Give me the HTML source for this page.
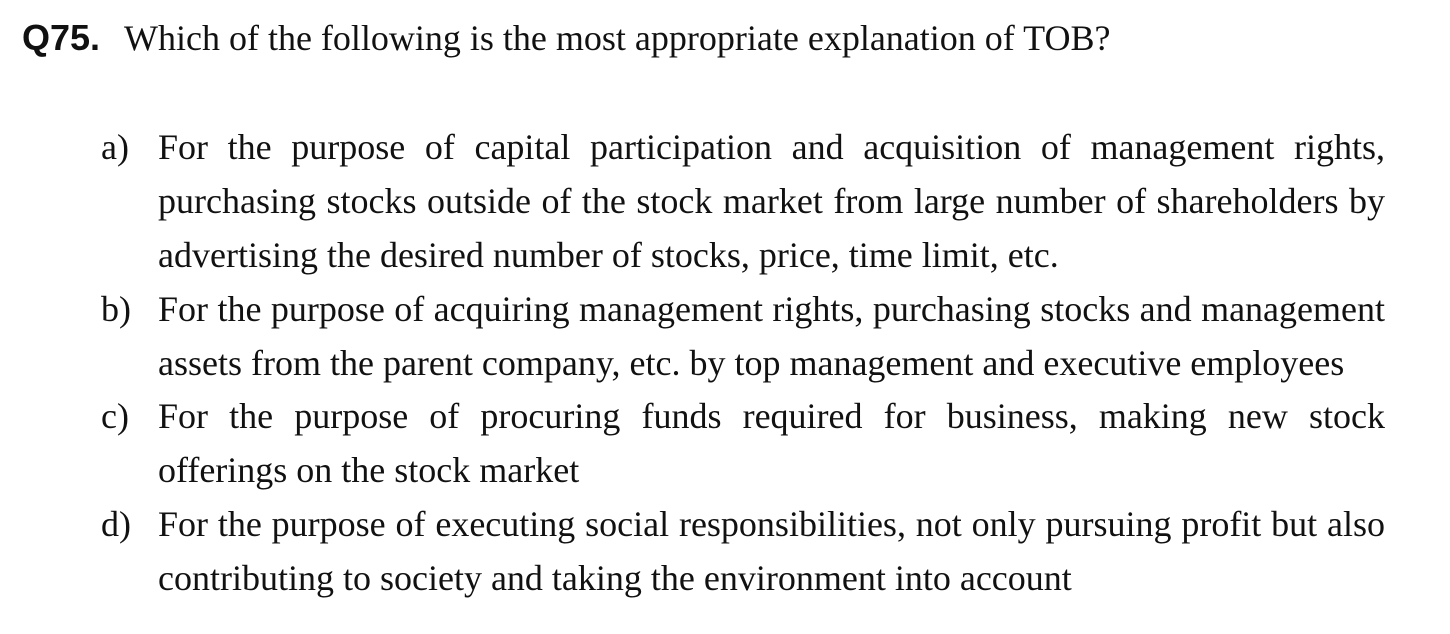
<!DOCTYPE html>
<html>
<head>
<meta charset="utf-8">
<style>
  html,body{margin:0;padding:0;background:#fff;}
  body{width:1450px;height:634px;position:relative;overflow:hidden;color:#111;}
  .serif{font-family:"Liberation Serif",serif;font-size:36px;}
  .ln{position:absolute;left:158px;width:1227px;height:54px;line-height:54px;white-space:nowrap;}
  .j{text-align:justify;text-align-last:justify;white-space:normal;}
  .lbl{position:absolute;left:101px;height:54px;line-height:54px;}
  #qnum{position:absolute;left:22px;top:16px;font-family:"Liberation Sans",sans-serif;font-weight:bold;font-size:36px;line-height:44px;}
  #qtext{position:absolute;left:124px;top:16px;line-height:44px;white-space:nowrap;}
</style>
</head>
<body>
<div id="qnum">Q75.</div>
<div id="qtext" class="serif">Which of the following is the most appropriate explanation of TOB?</div>

<div>
  <div class="lbl serif" style="top:120px">a)</div>
  <div class="ln serif j" style="top:120px">For the purpose of capital participation and acquisition of management rights,</div>
  <div class="ln serif j" style="top:174px">purchasing stocks outside of the stock market from large number of shareholders by</div>
  <div class="ln serif" style="top:228px">advertising the desired number of stocks, price, time limit, etc.</div>
</div>

<div>
  <div class="lbl serif" style="top:282px">b)</div>
  <div class="ln serif j" style="top:282px">For the purpose of acquiring management rights, purchasing stocks and management</div>
  <div class="ln serif" style="top:336px">assets from the parent company, etc. by top management and executive employees</div>
</div>

<div>
  <div class="lbl serif" style="top:389px">c)</div>
  <div class="ln serif j" style="top:389px">For the purpose of procuring funds required for business, making new stock</div>
  <div class="ln serif" style="top:443px">offerings on the stock market</div>
</div>

<div>
  <div class="lbl serif" style="top:497px">d)</div>
  <div class="ln serif j" style="top:497px">For the purpose of executing social responsibilities, not only pursuing profit but also</div>
  <div class="ln serif" style="top:551px">contributing to society and taking the environment into account</div>
</div>
</body>
</html>
